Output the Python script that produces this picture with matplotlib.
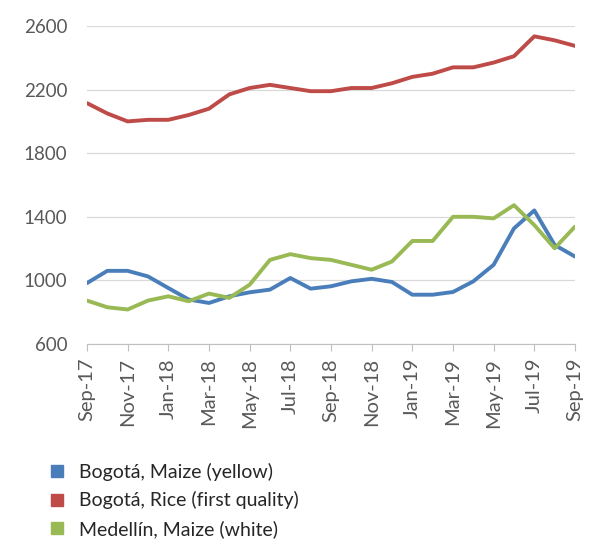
import matplotlib.pyplot as plt
from matplotlib.lines import Line2D

months = ["Sep-17", "Oct-17", "Nov-17", "Dec-17", "Jan-18", "Feb-18", "Mar-18", "Apr-18",
          "May-18", "Jun-18", "Jul-18", "Aug-18", "Sep-18", "Oct-18", "Nov-18", "Dec-18",
          "Jan-19", "Feb-19", "Mar-19", "Apr-19", "May-19", "Jun-19", "Jul-19", "Aug-19", "Sep-19"]

bogota_maize = [983, 1060, 1060, 1025, 952, 880, 858, 900, 925, 942, 1015, 948, 963,
                994, 1010, 990, 910, 910, 927, 994, 1098, 1327, 1440, 1223, 1150]
bogota_rice = [2115, 2050, 2000, 2010, 2010, 2040, 2080, 2170, 2210, 2230, 2210, 2190, 2190,
               2210, 2210, 2240, 2280, 2300, 2340, 2340, 2370, 2410, 2535, 2510, 2475]
medellin_maize = [873, 831, 817, 873, 900, 869, 917, 890, 973, 1129, 1165, 1140, 1129,
                  1098, 1067, 1119, 1248, 1248, 1400, 1400, 1390, 1473, 1348, 1202, 1338]

series_names = ["Bogotá, Maize (yellow)", "Bogotá, Rice (first quality)", "Medellín, Maize (white)"]
colors = ["#4A7EBB", "#BE4B48", "#98B954"]
yticks = [600, 1000, 1400, 1800, 2200, 2600]

plt.rcParams['font.family'] = ['Lato', 'DejaVu Sans']
txt = "#595959"

fig = plt.figure(figsize=(5.93, 5.51), dpi=100)
ax = fig.add_axes([0.1467, 0.3757, 0.8229, 0.5771])

x = list(range(len(months)))
for ys, c in zip([bogota_maize, bogota_rice, medellin_maize], colors):
    ax.plot(x, ys, color=c, lw=2.8, solid_capstyle='round', solid_joinstyle='round')

ax.set_xlim(0, len(months) - 1)
ax.set_ylim(600, 2600)
ax.set_yticks(yticks)
ax.set_xticks(x[::2])
ax.set_xticklabels(months[::2], rotation=90)
ax.tick_params(axis='y', length=0, pad=14, labelsize=13.5, labelcolor=txt)
ax.tick_params(axis='x', length=5, color="#BFBFBF", pad=5, labelsize=14.5, labelcolor=txt)
ax.grid(axis='y', color="#D9D9D9", lw=0.9)
for s in ['top', 'right', 'left']:
    ax.spines[s].set_visible(False)
ax.spines['bottom'].set_color("#BFBFBF")
ax.set_axisbelow(True)

handles = [Line2D([], [], marker='s', ls='', color=c, markersize=8) for c in colors]
fig.legend(handles, series_names, loc='upper left', bbox_to_anchor=(0.063, 0.178),
           frameon=False, fontsize=14, labelcolor="#262626", handlelength=1.0,
           handletextpad=0.65, labelspacing=0.55, borderpad=0)

fig.savefig("out.png", dpi=100)
